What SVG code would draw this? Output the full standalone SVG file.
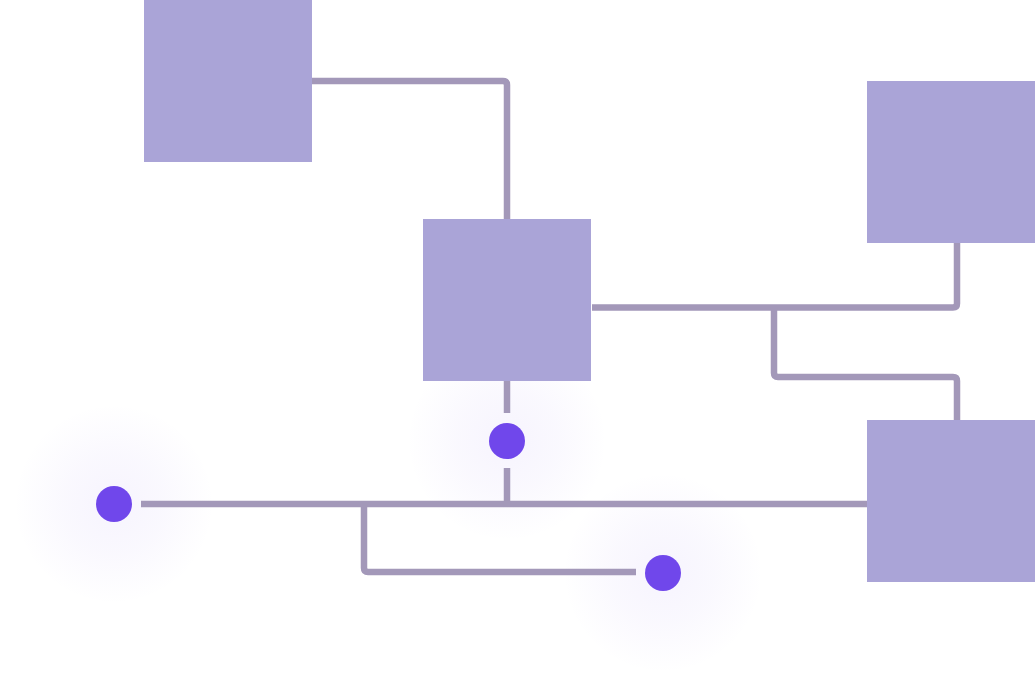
<svg xmlns="http://www.w3.org/2000/svg" width="1035" height="687" viewBox="0 0 1035 687">
<style>
.box{fill:#aaa4d7}
.ln{fill:none;stroke:#a398b9;stroke-width:6.5;stroke-linejoin:round;stroke-linecap:butt}
.dot{fill:#7047eb}
</style>
<defs>
<radialGradient id="glow">
<stop offset="0" stop-color="#7047eb" stop-opacity="0.06"/>
<stop offset="0.5" stop-color="#7047eb" stop-opacity="0.035"/>
<stop offset="1" stop-color="#7047eb" stop-opacity="0"/>
</radialGradient>
</defs>
<rect width="1035" height="687" fill="#ffffff"/>
<g id="glows">
<circle cx="114" cy="504" r="100" fill="url(#glow)"/>
<circle cx="507" cy="441" r="100" fill="url(#glow)"/>
<circle cx="663" cy="573" r="100" fill="url(#glow)"/>
</g>
<g id="connectors">
<path class="ln" d="M312 81 H503 Q507 81 507 85 V219"/>
<path class="ln" d="M592 307.5 H953 Q957 307.5 957 303.5 V243"/>
<path class="ln" d="M774 307.5 V373 Q774 377 778 377 H953 Q957 377 957 381 V420"/>
<path class="ln" d="M507 381 V413"/>
<path class="ln" d="M507 468 V504"/>
<path class="ln" d="M141 504 H867"/>
<path class="ln" d="M364 504 V568 Q364 572 368 572 H636"/>
</g>
<g id="node1"><rect class="box" x="144" y="0" width="168" height="162"/></g>
<g id="node2"><rect class="box" x="423" y="219" width="168" height="162"/></g>
<g id="node3"><rect class="box" x="867" y="81" width="168" height="162"/></g>
<g id="node4"><rect class="box" x="867" y="420" width="168" height="162"/></g>
<g id="dot1"><circle class="dot" cx="114" cy="504" r="18"/></g>
<g id="dot2"><circle class="dot" cx="507" cy="441" r="18"/></g>
<g id="dot3"><circle class="dot" cx="663" cy="573" r="18"/></g>
</svg>
